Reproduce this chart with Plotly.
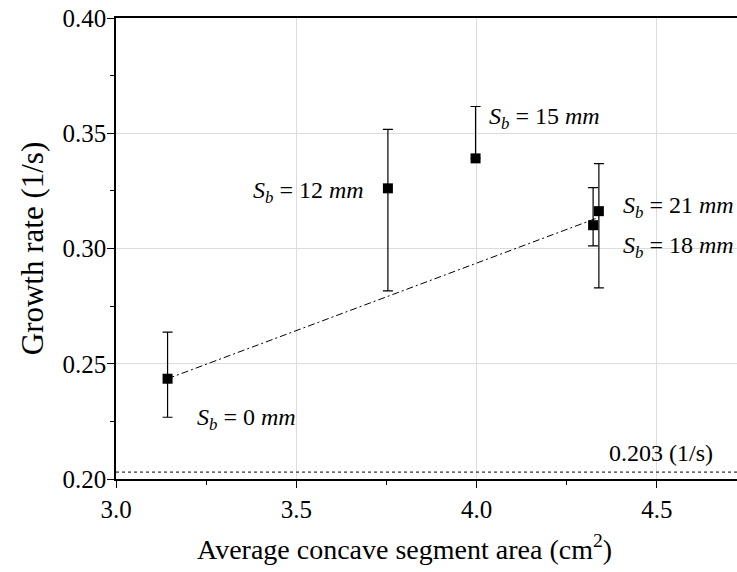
import plotly.graph_objects as go

# Measured growth rates vs. average concave segment area
area = [3.143, 3.754, 3.997, 4.323, 4.339]
growth = [0.2435, 0.3261, 0.3391, 0.3101, 0.3162]
err_plus = [0.0202, 0.0256, 0.0225, 0.0163, 0.0206]
err_minus = [0.0167, 0.0445, 0.0, 0.0090, 0.0333]
labels = ["0", "12", "15", "18", "21"]

# Trend line end points
fit_x = [3.143, 4.339]
fit_y = [0.2435, 0.3135]

# Reference growth rate
ref_rate = 0.203

FONT = "Liberation Serif, Times New Roman, serif"

fig = go.Figure()

fig.add_trace(go.Scatter(
    x=[3.0, 4.8], y=[ref_rate, ref_rate], mode="lines",
    line=dict(color="black", width=1, dash="3px,3px"),
    hoverinfo="skip", showlegend=False,
))

fig.add_trace(go.Scatter(
    x=fit_x, y=fit_y, mode="lines",
    line=dict(color="black", width=1, dash="7px,3px,2px,3px"),
    hoverinfo="skip", showlegend=False,
))

fig.add_trace(go.Scatter(
    x=area, y=growth, mode="markers",
    marker=dict(symbol="square", size=10, color="black"),
    error_y=dict(type="data", symmetric=False, array=err_plus, arrayminus=err_minus,
                 color="black", thickness=1.2, width=5),
    showlegend=False,
))

def sb(v):
    return f"<i>S</i><sub><i>b</i></sub> = {v} <i>mm</i>"

# label placement: (x, y, xanchor)
label_pos = {
    "0": (3.218, 0.2262, "left"),
    "12": (3.692, 0.3245, "right"),
    "15": (4.028, 0.3568, "left"),
    "18": (4.399, 0.3005, "left"),
    "21": (4.399, 0.3182, "left"),
}
for lab in labels:
    lx, ly, anc = label_pos[lab]
    fig.add_annotation(x=lx, y=ly, text=sb(lab), showarrow=False,
                       xanchor=anc, yanchor="middle",
                       font=dict(family=FONT, size=24, color="black"))

fig.add_annotation(x=4.662, y=ref_rate, text=f"{ref_rate} (1/s)", showarrow=False,
                   xanchor="right", yanchor="bottom", yshift=4,
                   font=dict(family=FONT, size=24, color="black"))

# x-axis title, set slightly left of the plot centre
fig.add_annotation(xref="paper", yref="paper", x=0.465, y=-0.148,
                   text="Average concave segment area (cm<sup>2</sup>)",
                   showarrow=False, xanchor="center", yanchor="middle",
                   font=dict(family=FONT, size=28, color="black"))

axis_common = dict(
    showline=True, linecolor="black", linewidth=1.5,
    ticks="outside", ticklen=7, tickwidth=1.2, tickcolor="black",
    showgrid=True, gridcolor="#dcdcdc", gridwidth=1,
    zeroline=False,
    tickfont=dict(family=FONT, size=25, color="black"),
)

fig.update_xaxes(
    **axis_common,
    range=[3.0, 4.722], dtick=0.5, tick0=3.0, tickformat=".1f",
    mirror=True, ticklabelstandoff=0,
    minor=dict(dtick=0.25, tick0=3.0, ticks="outside", ticklen=4,
               tickwidth=1.2, tickcolor="black", showgrid=False),
)
fig.update_yaxes(
    **axis_common,
    range=[0.2, 0.4], dtick=0.05, tick0=0.2, tickformat=".2f",
    ticklabelstandoff=-4,
    minor=dict(dtick=0.025, tick0=0.2, ticks="outside", ticklen=4,
               tickwidth=1.2, tickcolor="black", showgrid=False),
    title=dict(text="Growth rate (1/s)",
               font=dict(family=FONT, size=31, color="black"), standoff=10),
)

fig.update_layout(
    width=737, height=572,
    margin=dict(l=116, r=0, t=18, b=93, autoexpand=False),
    plot_bgcolor="white", paper_bgcolor="white",
    font=dict(family=FONT, color="black"),
)

fig.write_html("out.html")
